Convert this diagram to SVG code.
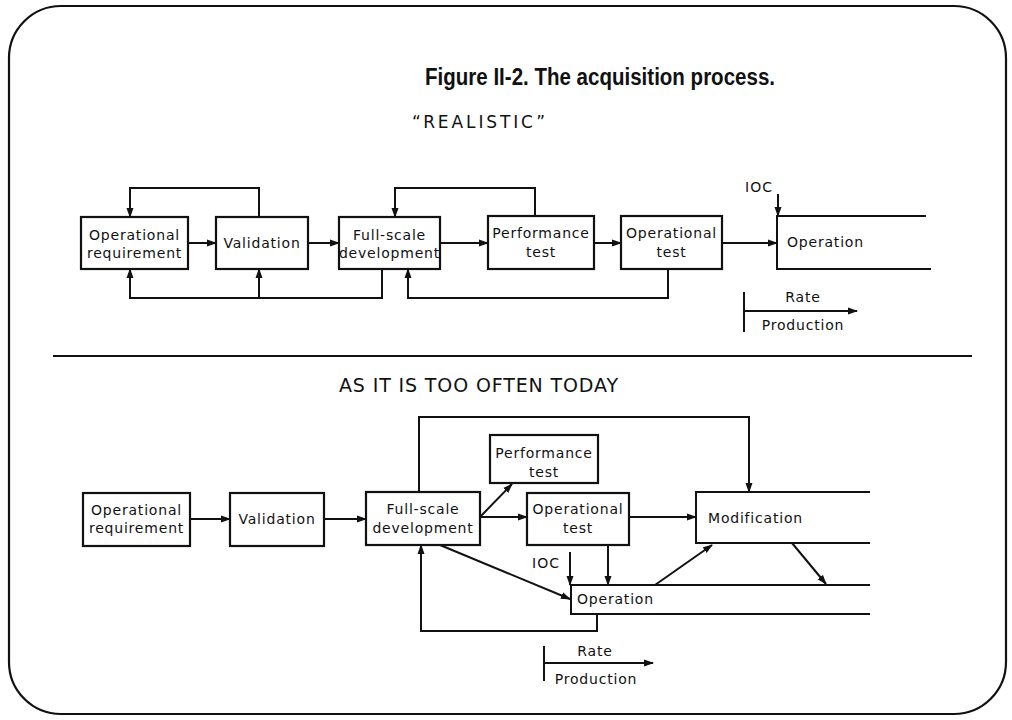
<svg xmlns="http://www.w3.org/2000/svg" width="1012" height="720" viewBox="0 0 1012 720">
<style>
.bg{fill:#ffffff}
.frame{fill:none;stroke:#111;stroke-width:2.2}
.box{fill:#fff;stroke:#111;stroke-width:2.2}
.open{fill:none;stroke:#111;stroke-width:2}
.ln{fill:none;stroke:#111;stroke-width:2}
.arr{fill:none;stroke:#111;stroke-width:2;marker-end:url(#ah)}
.t{font-family:"DejaVu Sans",sans-serif;font-size:14px;letter-spacing:0.8px;fill:#111;text-anchor:middle}
.tl{font-family:"DejaVu Sans",sans-serif;font-size:14px;letter-spacing:0.8px;fill:#111}
.title{font-family:"Liberation Sans",sans-serif;font-size:23px;font-weight:bold;fill:#111;text-anchor:middle}
.head{font-family:"DejaVu Sans",sans-serif;font-size:17px;fill:#111}
</style>
<defs>
<marker id="ah" markerWidth="10" markerHeight="8" refX="9" refY="4" orient="auto" markerUnits="userSpaceOnUse">
<path d="M0,0.5 L10,4 L0,7.5 z" fill="#111"/>
</marker>
</defs>
<rect class="bg" x="0" y="0" width="1012" height="720"/>
<rect class="frame" x="9" y="6" width="997" height="708" rx="52" ry="52"/>
<text class="title" x="600" y="85" textLength="350" lengthAdjust="spacingAndGlyphs">Figure II-2. The acquisition process.</text>
<text class="head" x="412" y="128" textLength="133" lengthAdjust="spacing">“REALISTIC”</text>
<line class="ln" x1="53" y1="356" x2="972" y2="356"/>
<text class="head" x="339" y="392" style="font-size:19px" textLength="279" lengthAdjust="spacing">AS IT IS TOO OFTEN TODAY</text>

<g id="connectors">
<path class="arr" d="M188,243 H216"/>
<path class="arr" d="M308,243 H339"/>
<path class="arr" d="M440,243 H488"/>
<path class="arr" d="M594,243 H621"/>
<path class="arr" d="M722,243 H777"/>
<path class="arr" d="M778,194 V216"/>
<path class="arr" d="M259,217 V188 H130 V217"/>
<path class="arr" d="M535,216 V188 H395 V217"/>
<path class="arr" d="M382,269 V298 H130 V269"/>
<path class="arr" d="M259,298 V269"/>
<path class="arr" d="M668,269 V298 H408 V269"/>
<path class="ln" d="M744,292 V332"/>
<path class="arr" d="M744,311 H857"/>
<path class="arr" d="M190,519 H230"/>
<path class="arr" d="M324,519 H366"/>
<path class="arr" d="M419,492 V417 H749 V492"/>
<path class="arr" d="M480,517 L512,484"/>
<path class="arr" d="M480,517 H527"/>
<path class="arr" d="M629,517 H696"/>
<path class="arr" d="M440,545 L570,599"/>
<path class="arr" d="M570,552 V585"/>
<path class="arr" d="M608,545 V585"/>
<path class="arr" d="M655,585 L712,545"/>
<path class="arr" d="M792,543 L826,584"/>
<path class="arr" d="M597,614 V631 H421 V545"/>
<path class="ln" d="M544,646 V681"/>
<path class="arr" d="M544,663 H653"/>
</g>

<g id="top-op-req"><rect class="box" x="81" y="217" width="107" height="52"/><text class="t" x="134.5" y="240">Operational</text><text class="t" x="134.5" y="258">requirement</text></g>
<g id="top-validation"><rect class="box" x="216" y="217" width="92" height="52"/><text class="t" x="262" y="248">Validation</text></g>
<g id="top-fsd"><rect class="box" x="339" y="217" width="101" height="52"/><text class="t" x="389.5" y="240">Full-scale</text><text class="t" x="389.5" y="258">development</text></g>
<g id="top-perf"><rect class="box" x="488" y="216" width="106" height="53"/><text class="t" x="541" y="238">Performance</text><text class="t" x="541" y="257">test</text></g>
<g id="top-optest"><rect class="box" x="621" y="216" width="101" height="53"/><text class="t" x="671.5" y="238">Operational</text><text class="t" x="671.5" y="257">test</text></g>
<g id="top-operation"><path class="open" d="M926,216 H777 V269 H931"/><text class="tl" x="787" y="247">Operation</text></g>
<g id="top-ioc"><text class="tl" x="745" y="192" style="letter-spacing:1px">IOC</text></g>
<g id="top-rate"><text class="t" x="803" y="302">Rate</text><text class="t" x="803" y="330">Production</text></g>

<g id="bot-op-req"><rect class="box" x="83" y="493" width="107" height="53"/><text class="t" x="136.5" y="515">Operational</text><text class="t" x="136.5" y="533">requirement</text></g>
<g id="bot-validation"><rect class="box" x="230" y="493" width="94" height="53"/><text class="t" x="277" y="524">Validation</text></g>
<g id="bot-fsd"><rect class="box" x="366" y="492" width="114" height="53"/><text class="t" x="423" y="514">Full-scale</text><text class="t" x="423" y="533">development</text></g>
<g id="bot-perf"><rect class="box" x="490" y="435" width="108" height="48"/><text class="t" x="544" y="458">Performance</text><text class="t" x="544" y="477">test</text></g>
<g id="bot-optest"><rect class="box" x="527" y="493" width="102" height="52"/><text class="t" x="578" y="514">Operational</text><text class="t" x="578" y="533">test</text></g>
<g id="bot-modification"><path class="open" d="M870,492 H696 V543 H870"/><text class="tl" x="708" y="523">Modification</text></g>
<g id="bot-operation"><path class="open" d="M870,585 H571 V614 H870"/><text class="tl" x="577" y="604">Operation</text></g>
<g id="bot-ioc"><text class="tl" x="532" y="568" style="letter-spacing:1px">IOC</text></g>
<g id="bot-rate"><text class="t" x="595" y="656">Rate</text><text class="t" x="596" y="684">Production</text></g>
</svg>
